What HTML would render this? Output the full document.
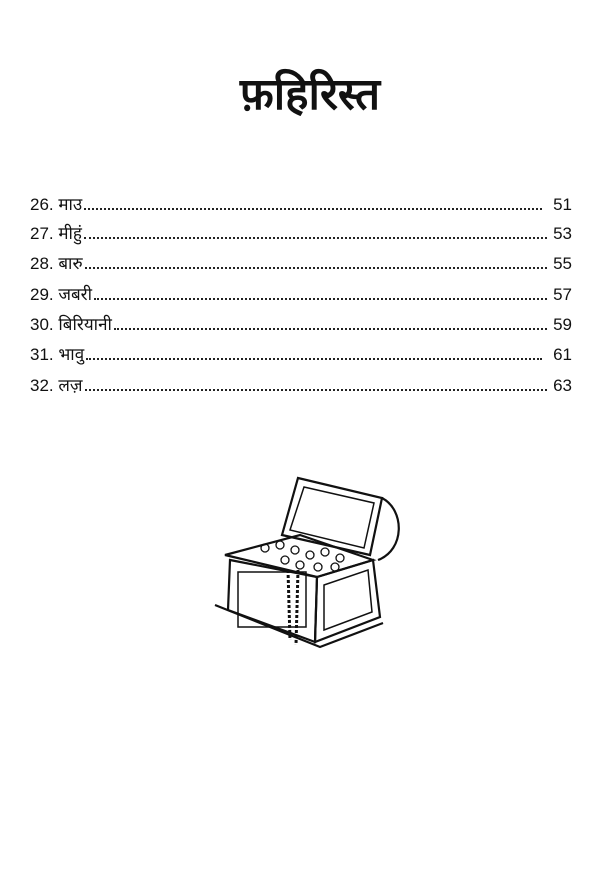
<!DOCTYPE html>
<html><head><meta charset="utf-8"><style>
body{margin:0;background:#fff;}
.p{position:relative;width:600px;height:887px;overflow:hidden;font-family:"Liberation Sans","Noto Sans CJK SC",sans-serif;color:#111;}
h1{position:absolute;top:62px;left:0;width:620px;text-align:center;margin:0;font-size:44px;font-weight:bold;}
.r{position:absolute;left:30px;width:542px;height:24px;font-size:17px;display:flex;align-items:baseline;}
.r .d{flex:1;border-bottom:2px dotted #222;margin:0 6px 0 2px;height:14px;}
</style></head><body><div class="p">
<h1>फ़हिरिस्त</h1>
<div class="r" style="top:192px"><span>26. माउ</span><span class="d"></span><span>&nbsp;51</span></div>
<div class="r" style="top:221px"><span>27. मीहुं</span><span class="d"></span><span>53</span></div>
<div class="r" style="top:251px"><span>28. बारु</span><span class="d"></span><span>55</span></div>
<div class="r" style="top:282px"><span>29. जबरी</span><span class="d"></span><span>57</span></div>
<div class="r" style="top:312px"><span>30. बिरियानी</span><span class="d"></span><span>59</span></div>
<div class="r" style="top:342px"><span>31. भावु</span><span class="d"></span><span>&nbsp;61</span></div>
<div class="r" style="top:373px"><span>32. लज़</span><span class="d"></span><span>63</span></div>
<svg width="600" height="887" style="position:absolute;left:0;top:0" fill="none" stroke="#111" stroke-width="2.2">
<polygon points="298,478 382,498 370,555 282,535"/>
<polygon points="304,487 374,503 364,548 290,530" stroke-width="1.5"/>
<path d="M382,498 C405,510 405,550 378,560"/>
<polygon points="225,555 300,535 373,560 317,577"/>
<polygon points="230,560 317,577 315,642 228,610"/>
<polygon points="317,577 373,560 380,617 315,642"/>
<polyline points="215,605 320,647 383,623"/>
<rect x="238" y="572" width="68" height="55" stroke-width="1.5"/>
<polygon points="324,585 368,570 372,612 324,630" stroke-width="1.5"/>
<g stroke-width="1.3">
<circle cx="265" cy="548" r="4"/><circle cx="280" cy="545" r="4"/><circle cx="295" cy="550" r="4"/><circle cx="310" cy="555" r="4"/><circle cx="325" cy="552" r="4"/><circle cx="340" cy="558" r="4"/><circle cx="300" cy="565" r="4"/><circle cx="285" cy="560" r="4"/><circle cx="318" cy="567" r="4"/><circle cx="335" cy="567" r="4"/>
<path d="M288,570 L290,640 M298,570 L296,645" stroke-dasharray="3,2" stroke-width="3"/>
</g>
</svg>
</div></body></html>
